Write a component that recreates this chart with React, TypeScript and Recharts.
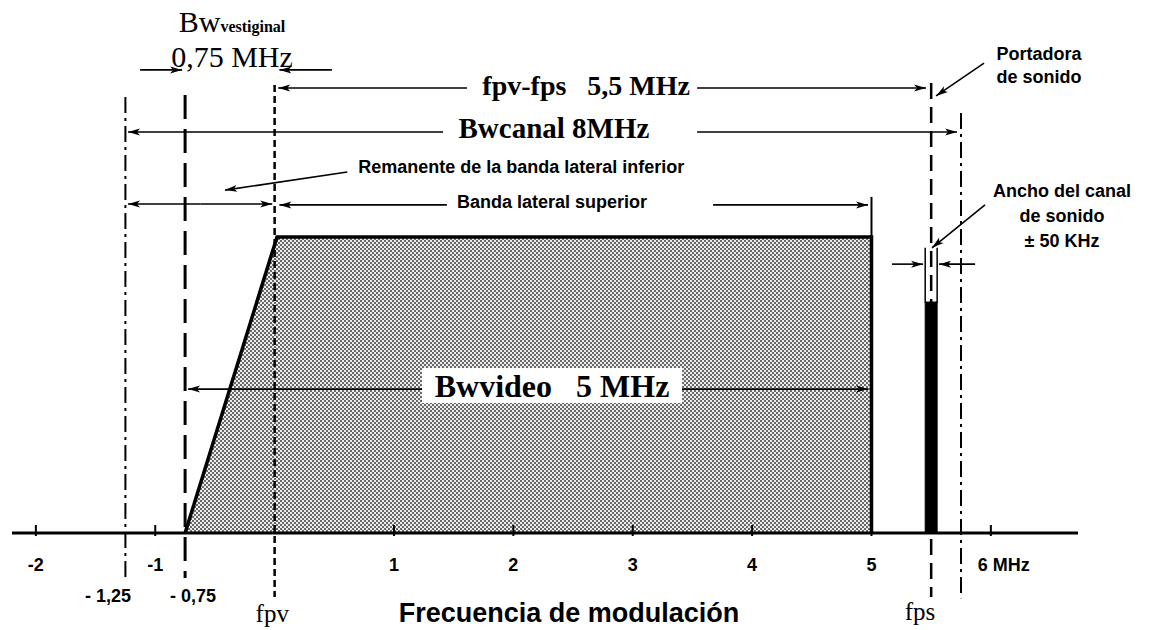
import React from 'react';
import { ComposedChart, Area, XAxis, YAxis, ReferenceLine, ReferenceArea, Customized } from 'recharts';

// espectro de la señal de TV (MHz relativos a la portadora de video)
const videoBand = [
  { f: -0.75, a: 0 },
  { f: 0.02, a: 1 },
  { f: 5, a: 1 },
  { f: 5, a: 0 },
];
const soundCarrier = [
  { f: 5.45, a: 0 },
  { f: 5.45, a: 0.78 },
  { f: 5.55, a: 0.78 },
  { f: 5.55, a: 0 },
];
const axisTicks = [-2, -1, 1, 2, 3, 4, 5, 6];
const tickNames: Record<number, string> = { 6: '6 MHz' };

// lineas verticales de referencia: [f, desde, hasta, tipo]
const guides: [number, number, number, string][] = [
  [-1.25, 1.472, -0.149, 'dashdot'],
  [-0.75, 1.479, -0.152, 'long'],
  [0, 1.513, -0.216, 'fine'],
  [5, 1.135, 1.0, 'solid'],
  [5.5, 1.52, -0.216, 'dash'],
  [5.75, 1.418, -0.22, 'dashdot'],
  [5.45, 0.963, 0.777, 'thin'],
  [5.55, 0.963, 0.777, 'thin'],
];

// flechas: [f1, a1, f2, a2] (punta en el segundo punto)
const arrows: [number, number, number, number][] = [
  [-1.127, 1.564, -0.775, 1.564],
  [0.48, 1.564, 0.04, 1.564],
  [1.612, 1.503, 0.03, 1.503],
  [3.539, 1.503, 5.457, 1.503],
  [1.411, 1.354, -1.228, 1.354],
  [3.539, 1.354, 5.717, 1.354],
  [0.609, 1.219, -0.415, 1.158],
  [-0.623, 1.111, -1.228, 1.111],
  [-0.623, 1.111, -0.02, 1.111],
  [1.443, 1.108, 0.04, 1.108],
  [3.673, 1.108, 4.971, 1.108],
  [1.235, 0.486, -0.725, 0.486],
  [3.413, 0.486, 4.971, 0.486],
  [5.943, 1.587, 5.541, 1.476],
  [5.951, 1.108, 5.507, 0.963],
  [5.172, 0.908, 5.432, 0.908],
  [5.868, 0.908, 5.566, 0.908],
];

// recuadro del rotulo Bwvideo: [f1, f2, a1, a2]
const videoLabelBox: [number, number, number, number] = [1.235, 3.413, 0.439, 0.557];

const X_DOMAIN: [number, number] = [-2.2, 6.73];
const Y_DOMAIN: [number, number] = [0, 1.8];
const W = 1153;
const H = 630;
const M = { top: 0, right: 75, bottom: 0, left: 12 };
const AXIS_H = 97;
const PLOT_W = W - M.left - M.right;
const PLOT_H = H - M.top - AXIS_H;

const sx = (f: number) => M.left + ((f - X_DOMAIN[0]) / (X_DOMAIN[1] - X_DOMAIN[0])) * PLOT_W;
const sy = (a: number) => M.top + PLOT_H - ((a - Y_DOMAIN[0]) / (Y_DOMAIN[1] - Y_DOMAIN[0])) * PLOT_H;

const SANS = '"Liberation Sans", Arial, sans-serif';
const SERIF = '"Liberation Serif", "Times New Roman", serif';

const dashes: Record<string, { dash?: string; width: number }> = {
  dashdot: { dash: '16 5 3 5', width: 2 },
  long: { dash: '24 10', width: 3 },
  fine: { dash: '7 4', width: 2.5 },
  dash: { dash: '16 8', width: 2.5 },
  solid: { width: 2 },
  thin: { width: 1.5 },
};

const AxisTick = (props: any) => {
  const { x, y, payload } = props;
  const name = tickNames[payload.value] ?? String(payload.value);
  const isLast = payload.value === 6;
  return (
    <g>
      <line x1={x} x2={x} y1={y - 8} y2={y + 3} stroke="#000" strokeWidth={2} />
      <text
        x={isLast ? x - 13 : x}
        y={y + 38}
        textAnchor={isLast ? 'start' : 'middle'}
        fontFamily={SANS}
        fontWeight="bold"
        fontSize={18}
        fill="#000"
      >
        {name}
      </text>
    </g>
  );
};

const VideoLabel = (props: any) => {
  const { viewBox } = props;
  if (!viewBox) return null;
  return (
    <text
      x={viewBox.x + viewBox.width / 2}
      y={viewBox.y + viewBox.height - 6}
      textAnchor="middle"
      fontFamily={SERIF}
      fontWeight="bold"
      fontSize={32}
      fill="#000"
      xmlSpace="preserve"
    >
      Bwvideo   5 MHz
    </text>
  );
};

const Defs = () => (
  <defs>
    <pattern id="dots" width="4" height="4" patternUnits="userSpaceOnUse">
      <rect width="4" height="4" fill="#ededed" />
      <circle cx="1" cy="1" r="0.9" fill="#2a2a2a" />
      <circle cx="3" cy="3" r="0.9" fill="#2a2a2a" />
    </pattern>
    <marker
      id="ah"
      viewBox="0 0 12 8"
      refX="12"
      refY="4"
      markerUnits="userSpaceOnUse"
      markerWidth="13"
      markerHeight="8"
      orient="auto-start-reverse"
    >
      <path d="M0,0.5 L12,4 L0,7.5 L3,4 z" fill="#000" />
    </marker>
  </defs>
);

const Labels = () => {
  const t = (f: number, a: number) => ({ x: sx(f), y: sy(a) });
  return (
    <g>
      <text {...t(-0.357, 1.692)} textAnchor="middle" fontFamily={SERIF} fontSize={30} fill="#000">
        Bw<tspan fontSize={16} fontWeight="bold">vestiginal</tspan>
      </text>
      <text {...t(-0.357, 1.574)} textAnchor="middle" fontFamily={SERIF} fontSize={30} fill="#000">
        0,75 MHz
      </text>
      <text {...t(2.61, 1.479)} textAnchor="middle" fontFamily={SERIF} fontWeight="bold" fontSize={28} fill="#000" xmlSpace="preserve">
        fpv-fps   5,5 MHz
      </text>
      <text {...t(2.34, 1.334)} textAnchor="middle" fontFamily={SERIF} fontWeight="bold" fontSize={29} fill="#000">
        Bwcanal 8MHz
      </text>
      <text {...t(0.7, 1.216)} fontFamily={SANS} fontWeight="bold" fontSize={18} fill="#000">
        Remanente de la banda lateral inferior
      </text>
      <text {...t(1.528, 1.098)} fontFamily={SANS} fontWeight="bold" fontSize={18} fill="#000">
        Banda lateral superior
      </text>
      <text {...t(6.404, 1.597)} textAnchor="middle" fontFamily={SANS} fontWeight="bold" fontSize={18} fill="#000">
        Portadora
      </text>
      <text {...t(6.404, 1.52)} textAnchor="middle" fontFamily={SANS} fontWeight="bold" fontSize={18} fill="#000">
        de sonido
      </text>
      <text {...t(6.596, 1.135)} textAnchor="middle" fontFamily={SANS} fontWeight="bold" fontSize={18} fill="#000">
        Ancho del canal
      </text>
      <text {...t(6.596, 1.05)} textAnchor="middle" fontFamily={SANS} fontWeight="bold" fontSize={18} fill="#000">
        de sonido
      </text>
      <text {...t(6.596, 0.966)} textAnchor="middle" fontFamily={SANS} fontWeight="bold" fontSize={18} fill="#000">
        ± 50 KHz
      </text>
      <text {...t(-1.395, -0.233)} textAnchor="middle" fontFamily={SANS} fontWeight="bold" fontSize={18} fill="#000">
        - 1,25
      </text>
      <text {...t(-0.684, -0.233)} textAnchor="middle" fontFamily={SANS} fontWeight="bold" fontSize={18} fill="#000">
        - 0,75
      </text>
      <text {...t(-0.02, -0.3)} textAnchor="middle" fontFamily={SERIF} fontSize={25} fill="#000">
        fpv
      </text>
      <text {...t(5.406, -0.294)} textAnchor="middle" fontFamily={SERIF} fontSize={25} fill="#000">
        fps
      </text>
      <text {...t(2.466, -0.3)} textAnchor="middle" fontFamily={SANS} fontWeight="bold" fontSize={27} fill="#000">
        Frecuencia de modulación
      </text>
    </g>
  );
};

export default function App() {
  return (
    <div style={{ position: 'absolute', left: 0, top: 0, width: W, height: H, background: '#fff' }}>
      <ComposedChart width={W} height={H} margin={M}>
        <Customized component={Defs} />
        <XAxis
          type="number"
          dataKey="f"
          domain={X_DOMAIN}
          allowDataOverflow
          ticks={axisTicks}
          tick={<AxisTick />}
          tickLine={false}
          tickSize={0}
          tickMargin={0}
          height={AXIS_H}
          axisLine={{ stroke: '#000', strokeWidth: 3 }}
          interval={0}
        />
        <YAxis type="number" dataKey="a" domain={Y_DOMAIN} allowDataOverflow hide />
        <Area
          data={videoBand}
          dataKey="a"
          type="linear"
          stroke="#000"
          strokeWidth={3.5}
          fill="url(#dots)"
          fillOpacity={1}
          isAnimationActive={false}
          dot={false}
          activeDot={false}
        />
        <Area
          data={soundCarrier}
          dataKey="a"
          type="linear"
          stroke="#000"
          strokeWidth={1}
          fill="#000"
          fillOpacity={1}
          isAnimationActive={false}
          dot={false}
          activeDot={false}
        />
        {guides.map(([f, a1, a2, kind], i) => (
          <ReferenceLine
            key={'g' + i}
            segment={[{ x: f, y: a1 }, { x: f, y: a2 }]}
            stroke="#000"
            strokeWidth={dashes[kind].width}
            strokeDasharray={dashes[kind].dash}
            ifOverflow="visible"
          />
        ))}
        {arrows.map(([f1, a1, f2, a2], i) => (
          <ReferenceLine
            key={'a' + i}
            segment={[{ x: f1, y: a1 }, { x: f2, y: a2 }]}
            stroke="#000"
            strokeWidth={1.6}
            markerEnd="url(#ah)"
            ifOverflow="visible"
          />
        ))}
        <ReferenceArea
          x1={videoLabelBox[0]}
          x2={videoLabelBox[1]}
          y1={videoLabelBox[2]}
          y2={videoLabelBox[3]}
          fill="#fff"
          fillOpacity={1}
          stroke="none"
          ifOverflow="visible"
          label={<VideoLabel />}
        />
        <Customized component={Labels} />
      </ComposedChart>
    </div>
  );
}
